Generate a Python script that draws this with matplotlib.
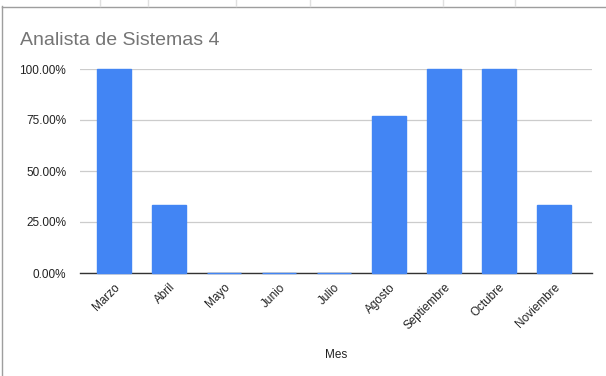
import matplotlib
matplotlib.use("Agg")
import matplotlib.pyplot as plt
from matplotlib.lines import Line2D
from matplotlib.ticker import FuncFormatter

plt.rcParams['font.family'] = ['Liberation Sans', 'DejaVu Sans']

meses = ["Marzo", "Abril", "Mayo", "Junio", "Julio", "Agosto",
         "Septiembre", "Octubre", "Noviembre"]
valores = [1.0, 0.3333, 0.0, 0.0, 0.0, 0.77, 1.0, 1.0, 0.3333]
yticks = [0.0, 0.25, 0.50, 0.75, 1.0]

W, H = 606, 376
fig = plt.figure(figsize=(W / 100, H / 100), dpi=100)
ax = fig.add_axes([80 / W, 1 - 273 / H, (592 - 80) / W, (273 - 69) / H])

azul = "#4285f4"
x = list(range(len(meses)))
ax.bar(x, valores, width=0.61, color=azul, edgecolor=azul, linewidth=1.0,
       zorder=4, clip_on=False)

ax.set_xlim(-0.62, 8.69)
ax.set_ylim(0, 1)
ax.set_yticks(yticks)
ax.yaxis.set_major_formatter(FuncFormatter(lambda v, p: "%.2f%%" % (v * 100)))
ax.grid(axis='y', color="#cccccc", linewidth=0.9, zorder=0)
ax.set_axisbelow(True)

for s in ["top", "right", "left"]:
    ax.spines[s].set_visible(False)
ax.spines["bottom"].set_color("#333333")
ax.spines["bottom"].set_linewidth(1.0)
ax.spines["bottom"].set_zorder(2)

ax.tick_params(axis='both', length=0, labelsize=8.5, labelcolor="#222222")
ax.tick_params(axis='y', pad=10)
ax.set_xticks(x)
ax.set_xticklabels(meses, rotation=45, ha='right', rotation_mode='anchor')
ax.tick_params(axis='x', pad=6)

ax.set_xlabel("Mes", fontsize=8.5, color="#222222", labelpad=12)

fig.text(20 / W, 1 - 45 / H, "Analista de Sistemas 4", fontsize=14,
         color="#757575", va='baseline', ha='left')

# marco de la hoja de cálculo
gris = "#9e9e9e"
fig.add_artist(Line2D([2.5 / W, 2.5 / W], [0, 1 - 6 / H], color=gris, lw=1,
                      transform=fig.transFigure))
fig.add_artist(Line2D([2.5 / W, 1], [1 - 6.5 / H, 1 - 6.5 / H], color=gris,
                      lw=1, transform=fig.transFigure))
for xc in [100, 148, 236, 310, 443, 515]:
    fig.add_artist(Line2D([xc / W, xc / W], [1 - 6 / H, 1], color="#e0e0e0",
                          lw=1, transform=fig.transFigure))

fig.savefig("out.png", dpi=100)
